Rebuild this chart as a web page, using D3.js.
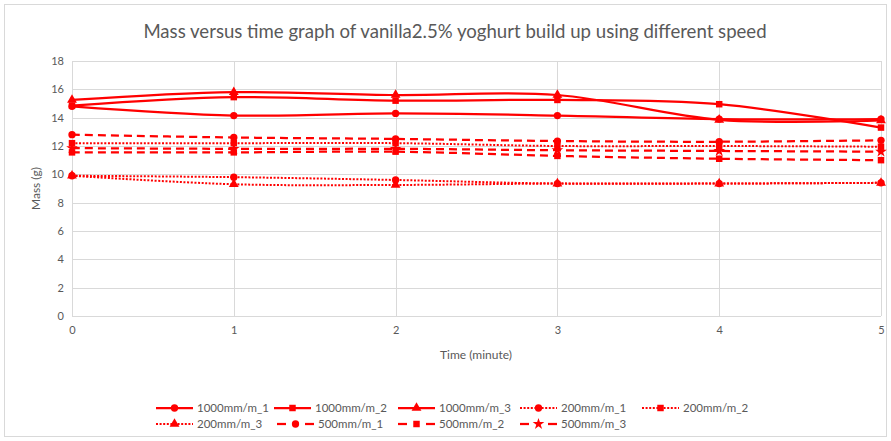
<!DOCTYPE html>
<html>
<head>
<meta charset="utf-8">
<script src="https://cdn.jsdelivr.net/npm/d3@7"></script>
<style>
  body { margin: 0; background: #fff; }
  svg text { font-family: Lato, "Open Sans", sans-serif; fill: #595959; }
</style>
</head>
<body>
<svg id="chart" width="891" height="441"></svg>
<script>
// Time points (minutes)
const times = [0, 1, 2, 3, 4, 5];
const yTicks = [0, 2, 4, 6, 8, 10, 12, 14, 16, 18];

// Mass (g) per speed / repetition
const s1000_1 = [14.8, 14.15, 14.3, 14.15, 13.9, 13.9];
const s1000_2 = [14.85, 15.45, 15.2, 15.25, 14.95, 13.3];
const s1000_3 = [15.25, 15.8, 15.6, 15.6, 13.85, 13.8];
const s200_1  = [9.9, 9.8, 9.6, 9.35, 9.35, 9.4];
const s200_2  = [12.2, 12.2, 12.2, 12.0, 12.0, 11.95];
const s200_3  = [9.9, 9.3, 9.25, 9.35, 9.35, 9.4];
const s500_1  = [12.8, 12.6, 12.5, 12.35, 12.3, 12.4];
const s500_2  = [11.55, 11.55, 11.6, 11.3, 11.1, 11.0];
const s500_3  = [11.85, 11.8, 11.8, 11.7, 11.65, 11.6];

const seriesNames = ["1000mm/m_1", "1000mm/m_2", "1000mm/m_3", "200mm/m_1", "200mm/m_2",
                     "200mm/m_3", "500mm/m_1", "500mm/m_2", "500mm/m_3"];
const seriesValues = [s1000_1, s1000_2, s1000_3, s200_1, s200_2, s200_3, s500_1, s500_2, s500_3];

const RED = "#ff0000";
const styleOf = name => {
  if (name.startsWith("1000")) return { dash: null, width: 2.25 };
  if (name.startsWith("200")) return { dash: "2,1.6", width: 2 };
  return { dash: "8,5", width: 2.25 };
};
const symbolOf = name => {
  const k = name.split("_")[1];
  if (name.startsWith("500") && k === "3") return d3.symbolStar;
  return k === "1" ? d3.symbolCircle : (k === "2" ? d3.symbolSquare : d3.symbolTriangle);
};

const svg = d3.select("#chart");

// chart frame
svg.append("rect").attr("x", 4.5).attr("y", 4.5).attr("width", 882).attr("height", 432)
  .attr("fill", "#fff").attr("stroke", "#d9d9d9");

const x = d3.scaleLinear().domain([0, 5]).range([72, 881]);
const y = d3.scaleLinear().domain([0, 18]).range([316, 61]);

// gridlines
svg.append("g").selectAll("line").data(yTicks).join("line")
  .attr("x1", x(0)).attr("x2", x(5))
  .attr("y1", d => Math.round(y(d)) + 0.5).attr("y2", d => Math.round(y(d)) + 0.5)
  .attr("stroke", "#d9d9d9").attr("stroke-width", 1);
svg.append("g").selectAll("line").data(times).join("line")
  .attr("y1", y(0)).attr("y2", y(18))
  .attr("x1", d => Math.round(x(d)) + 0.5).attr("x2", d => Math.round(x(d)) + 0.5)
  .attr("stroke", "#d9d9d9").attr("stroke-width", 1);

// axes
const yAxis = d3.axisLeft(y).tickValues(yTicks).tickSize(0).tickPadding(8);
const gy = svg.append("g").attr("transform", `translate(${x(0)},0)`).call(yAxis);
gy.select(".domain").remove();
gy.selectAll("text").attr("font-size", 11).style("fill", "#595959");

const xAxis = d3.axisBottom(x).tickValues(times).tickFormat(d3.format("d")).tickSize(0).tickPadding(10);
const gx = svg.append("g").attr("transform", `translate(0,${y(0)})`).call(xAxis);
gx.select(".domain").remove();
gx.selectAll("text").attr("font-size", 11).style("fill", "#595959");

// titles
svg.append("text").attr("x", 455).attr("y", 38).attr("text-anchor", "middle")
  .attr("font-size", 18.6).text("Mass versus time graph of vanilla2.5% yoghurt build up using different speed");
svg.append("text").attr("x", 476).attr("y", 359).attr("text-anchor", "middle")
  .attr("font-size", 12).text("Time (minute)");
svg.append("text").attr("transform", `translate(40,${(y(0) + y(18)) / 2}) rotate(-90)`)
  .attr("text-anchor", "middle").attr("font-size", 12).text("Mass (g)");

// series
const line = d3.line().x((d, i) => x(times[i])).y(d => y(d)).curve(d3.curveCardinal.tension(0));
const plot = svg.append("g");
seriesNames.forEach((name, si) => {
  const st = styleOf(name);
  plot.append("path").datum(seriesValues[si])
    .attr("d", line).attr("fill", "none").attr("stroke", RED)
    .attr("stroke-width", st.width).attr("stroke-dasharray", st.dash);
});
seriesNames.forEach((name, si) => {
  const sym = d3.symbol().type(symbolOf(name)).size(42);
  plot.append("g").selectAll("path").data(seriesValues[si]).join("path")
    .attr("transform", (d, i) => `translate(${x(times[i])},${y(d)})`)
    .attr("d", sym).attr("fill", RED);
});

// legend
const legendPos = [
  [156, 408], [274, 408], [398, 408], [520, 408], [642, 408],
  [156, 424], [277, 424], [398, 424], [520, 424]
];
const leg = svg.append("g");
seriesNames.forEach((name, si) => {
  const [lx, ly] = legendPos[si];
  const st = styleOf(name);
  const w = 37;
  const g = leg.append("g");
  if (name.startsWith("500")) {
    g.append("line").attr("x1", lx).attr("x2", lx + 9).attr("y1", ly).attr("y2", ly)
      .attr("stroke", RED).attr("stroke-width", 2.25);
    g.append("line").attr("x1", lx + w - 9).attr("x2", lx + w).attr("y1", ly).attr("y2", ly)
      .attr("stroke", RED).attr("stroke-width", 2.25);
  } else {
    g.append("line").attr("x1", lx).attr("x2", lx + w).attr("y1", ly).attr("y2", ly)
      .attr("stroke", RED).attr("stroke-width", st.width).attr("stroke-dasharray", st.dash);
  }
  g.append("path").attr("transform", `translate(${lx + w / 2},${ly})`)
    .attr("d", d3.symbol().type(symbolOf(name)).size(42)).attr("fill", RED);
  g.append("text").attr("x", lx + w + 4).attr("y", ly + 4).attr("font-size", 11.5).text(name);
});
</script>
</body>
</html>
